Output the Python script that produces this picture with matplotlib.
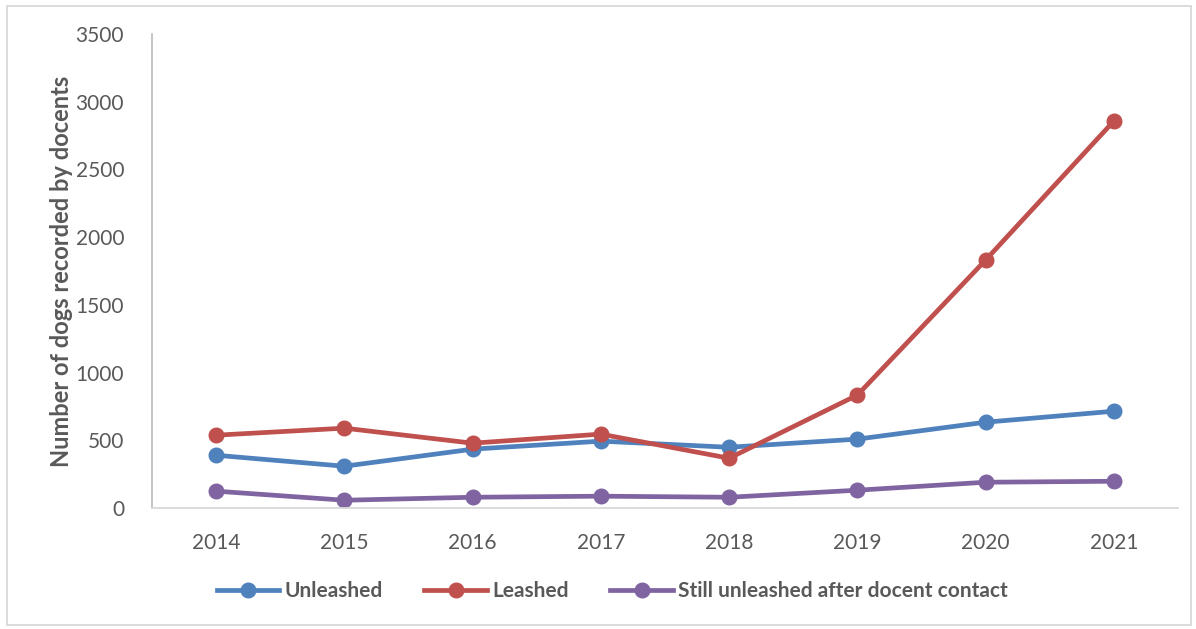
import matplotlib
matplotlib.use('Agg')
import matplotlib.pyplot as plt
from matplotlib.patches import Rectangle

years = ['2014', '2015', '2016', '2017', '2018', '2019', '2020', '2021']
unleashed = [391, 310, 436, 495, 450, 510, 635, 716]
leashed = [539, 591, 480, 547, 369, 835, 1832, 2858]
still_unleashed = [126, 59, 81, 89, 81, 133, 192, 199]

plt.rcParams['font.family'] = ['Lato', 'DejaVu Sans']

fig = plt.figure(figsize=(11.96, 6.29), dpi=100)
ax = fig.add_axes([0.127, 0.192, 0.858, 0.754])

x = list(range(len(years)))
ax.plot(x, unleashed, color='#4F81BD', lw=3.4, marker='o', ms=10.5, label='Unleashed')
ax.plot(x, leashed, color='#C0504D', lw=3.4, marker='o', ms=10.5, label='Leashed')
ax.plot(x, still_unleashed, color='#8064A2', lw=3.4, marker='o', ms=10.5,
        label='Still unleashed after docent contact')

ax.set_xlim(-0.5, len(years) - 0.5)
ax.set_ylim(0, 3500)
ax.set_yticks(range(0, 3501, 500))
ax.set_xticks(x)
ax.set_xticklabels(years)

for s in ['top', 'right']:
    ax.spines[s].set_visible(False)
ax.spines['left'].set_color('#BFBFBF')
ax.spines['bottom'].set_color('#D9D9D9')
ax.spines['left'].set_linewidth(1.3)
ax.spines['bottom'].set_linewidth(1.3)
ax.tick_params(length=0, labelsize=15, colors='#595959')
ax.tick_params(axis='x', pad=18)
ax.tick_params(axis='y', pad=20)

ax.set_ylabel('Number of dogs recorded by docents', fontsize=17, fontweight='bold',
              color='#595959', labelpad=2)

leg = fig.legend(loc='center', bbox_to_anchor=(0.512, 0.06), ncol=3, frameon=False,
                 handlelength=3.0, columnspacing=2.0, handletextpad=0.25,
                 prop={'size': 15, 'weight': 'bold'})
for t in leg.get_texts():
    t.set_color('#595959')

fig.patches.append(Rectangle((0.006, 0.006), 0.99, 0.984, transform=fig.transFigure,
                             fill=False, edgecolor='#D9D9D9', lw=1.3))

fig.savefig('out.png', dpi=100)
